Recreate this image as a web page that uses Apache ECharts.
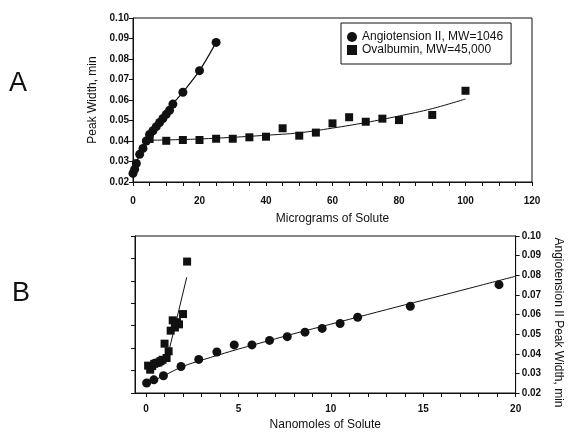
<!DOCTYPE html>
<html lang="en">
<head>
<meta charset="UTF-8">
<title>Peak width vs. solute</title>
<style>
  html, body { margin: 0; padding: 0; background: #fff; }
  #box { width: 572px; height: 432px; }
</style>
<script src="https://cdn.jsdelivr.net/npm/echarts@6/dist/echarts.min.js"></script>
</head>
<body>
<div id="box"></div>
<script>
// A: micrograms of solute vs peak width (min)
const angioUg = [0, 0.5, 1, 2, 3, 4, 5, 6, 7, 8, 9, 10, 11, 12, 15, 20, 25];
const angioWidthA = [0.0242, 0.0262, 0.0290, 0.0335, 0.0364, 0.0400, 0.0432, 0.0450, 0.0470,
  0.0490, 0.0510, 0.0530, 0.0550, 0.0580, 0.0638, 0.0743, 0.0881];
const ovalUg = [5, 10, 15, 20, 25, 30, 35, 40, 45, 50, 55, 60, 65, 70, 75, 80, 90, 100];
const ovalWidthA = [0.0410, 0.0401, 0.0405, 0.0405, 0.0411, 0.0411, 0.0418, 0.0421, 0.0462,
  0.0426, 0.0441, 0.0486, 0.0516, 0.0494, 0.0509, 0.0502, 0.0527, 0.0645];
// fitted curve for ovalbumin in A
const ovalFitUg = [3, 5, 10, 20, 30, 40, 50, 60, 70, 80, 90, 100];
const ovalFitA = [0.0375, 0.0403, 0.0405, 0.0410, 0.0418, 0.0428, 0.0440, 0.0463, 0.0490, 0.0522, 0.0558, 0.0605];

// B: nanomoles of solute
const angioNmol = [0.03, 0.42, 0.94, 1.89, 2.85, 3.83, 4.77, 5.73, 6.68, 7.64, 8.6, 9.53, 10.5, 11.45, 14.3, 19.1];
const angioWidthB = [0.0251, 0.0267, 0.0288, 0.0335, 0.0371, 0.0409, 0.0445, 0.0445, 0.0468,
  0.0487, 0.0510, 0.0529, 0.0554, 0.0586, 0.0642, 0.0752];
const angioFitNmol = [0, 1, 2, 3, 4, 5, 6, 8, 10, 12, 14, 16, 18, 20];
const angioFitB = [0.0245, 0.0290, 0.0336, 0.0367, 0.0396, 0.0424, 0.0450, 0.0502, 0.0551,
  0.0600, 0.0649, 0.0697, 0.0746, 0.0795];
const ovalNmol = [0.11, 0.22, 0.33, 0.44, 0.56, 0.67, 0.78, 0.89, 1.0, 1.11, 1.22, 1.33, 1.44, 1.56, 1.67, 1.78, 2.0, 2.22];
const ovalWidthB = [0.0411, 0.0402, 0.0410, 0.0415, 0.0417, 0.0418, 0.0421, 0.0424, 0.0460,
  0.0428, 0.0443, 0.0489, 0.0512, 0.0496, 0.0508, 0.0503, 0.0526, 0.0643];
const ovalFitNmol = [1.12, 1.6, 2.2];
const ovalFitB = [0.0425, 0.0505, 0.0608];

// ticks
const ticksA = [0, 5, 10, 15, 20, 25, 30, 35, 40, 45, 50, 55, 60, 65, 70, 75, 80, 85, 90, 95, 100, 105, 110, 115, 120];
const labelsA = [0, 20, 40, 60, 80, 100, 120];
const ticksB = [0, 1, 2, 3, 4, 5, 6, 7, 8, 9, 10, 11, 12, 13, 14, 15, 16, 17, 18, 19, 20];
const labelsB = [0, 5, 10, 15, 20];

const zip = (xs, ys) => xs.map((x, i) => [x, ys[i]]);

const font = 'Liberation Sans, Arial, sans-serif';
const ink = '#111';
const axisLine = { show: true, onZero: false, lineStyle: { color: ink, width: 1 } };
const tick = { show: true, inside: false, length: 4, lineStyle: { color: ink } };
const lbl = { color: ink, fontSize: 10, fontWeight: 'bold', fontFamily: font };
const nameStyle = { color: ink, fontSize: 12, fontFamily: font };
const dot = { color: ink, opacity: 1 };

let chart = echarts.init(document.getElementById('box'), null, { renderer: 'canvas' });

chart.setOption({
  backgroundColor: '#fff',
  animation: false,
  textStyle: { fontFamily: font },
  grid: [
    { left: 133, top: 18, width: 399, height: 164, show: true, borderColor: ink, borderWidth: 1 },
    { left: 135, top: 236, width: 392, height: 157, show: true, borderColor: ink, borderWidth: 1 }
  ],
  graphic: [
    { type: 'text', left: 9, top: 70, style: { text: 'A', fontSize: 27, fontFamily: font, fill: ink } },
    { type: 'text', left: 12, top: 280, style: { text: 'B', fontSize: 27, fontFamily: font, fill: ink } }
  ],
  legend: {
    left: 341, top: 23, orient: 'vertical',
    padding: [8, 8, 8, 6], itemGap: 1,
    itemWidth: 10, itemHeight: 10,
    borderColor: ink, borderWidth: 1,
    textStyle: { color: ink, fontSize: 12, fontFamily: font },
    data: [
      { name: 'Angiotension II, MW=1046', icon: 'circle' },
      { name: 'Ovalbumin, MW=45,000', icon: 'rect' }
    ]
  },
  xAxis: [
    {
      gridIndex: 0, type: 'value', min: 0, max: 120,
      name: 'Micrograms of Solute', nameLocation: 'middle', nameGap: 31, nameTextStyle: nameStyle,
      axisLine: axisLine, splitLine: { show: false },
      axisTick: Object.assign({}, tick, { customValues: ticksA }),
      axisLabel: Object.assign({}, lbl, { margin: 14, customValues: labelsA })
    },
    {
      gridIndex: 1, type: 'value', min: -0.6, max: 20,
      name: 'Nanomoles of Solute', nameLocation: 'middle', nameGap: 26, nameTextStyle: nameStyle,
      axisLine: axisLine, splitLine: { show: false },
      axisTick: Object.assign({}, tick, { customValues: ticksB }),
      axisLabel: Object.assign({}, lbl, { margin: 11, customValues: labelsB })
    }
  ],
  yAxis: [
    {
      gridIndex: 0, type: 'value', min: 0.02, max: 0.10, interval: 0.01,
      name: 'Peak Width, min', nameLocation: 'middle', nameGap: 31, nameTextStyle: nameStyle,
      axisLine: axisLine, axisTick: tick, splitLine: { show: false },
      axisLabel: Object.assign({}, lbl, { margin: 4, formatter: v => v.toFixed(2) })
    },
    {
      gridIndex: 1, type: 'value', position: 'left', min: 0.035, max: 0.070, interval: 0.005,
      axisLine: axisLine, axisTick: tick, splitLine: { show: false },
      axisLabel: { show: false }
    },
    {
      gridIndex: 1, type: 'value', position: 'right', min: 0.02, max: 0.10, interval: 0.01,
      name: 'Angiotension II Peak Width, min', nameLocation: 'middle', nameGap: 33, nameRotate: -90,
      nameTextStyle: Object.assign({}, nameStyle, { padding: [0, 0, 0, 16] }),
      axisLine: axisLine, axisTick: tick, splitLine: { show: false },
      axisLabel: Object.assign({}, lbl, { margin: 6, formatter: v => v.toFixed(2) })
    }
  ],
  series: [
    {
      name: 'Angiotension II, MW=1046', type: 'line', xAxisIndex: 0, yAxisIndex: 0,
      data: zip(angioUg, angioWidthA), smooth: 0.3,
      symbol: 'circle', symbolSize: 9, showAllSymbol: true,
      itemStyle: dot, lineStyle: { color: ink, width: 1.2 }
    },
    {
      name: 'Ovalbumin, MW=45,000', type: 'scatter', xAxisIndex: 0, yAxisIndex: 0,
      data: zip(ovalUg, ovalWidthA), symbol: 'rect', symbolSize: 8,
      itemStyle: dot
    },
    {
      name: 'ovalFitA', type: 'line', xAxisIndex: 0, yAxisIndex: 0,
      data: zip(ovalFitUg, ovalFitA), smooth: 0.4, symbol: 'none',
      lineStyle: { color: ink, width: 1 }
    },
    {
      name: 'angioB', type: 'scatter', xAxisIndex: 1, yAxisIndex: 2,
      data: zip(angioNmol, angioWidthB), symbol: 'circle', symbolSize: 9,
      itemStyle: dot
    },
    {
      name: 'angioFitB', type: 'line', xAxisIndex: 1, yAxisIndex: 2,
      data: zip(angioFitNmol, angioFitB), smooth: 0.3, symbol: 'none',
      lineStyle: { color: ink, width: 1 }
    },
    {
      name: 'ovalB', type: 'scatter', xAxisIndex: 1, yAxisIndex: 1,
      data: zip(ovalNmol, ovalWidthB), symbol: 'rect', symbolSize: 8,
      itemStyle: dot
    },
    {
      name: 'ovalFitB', type: 'line', xAxisIndex: 1, yAxisIndex: 1,
      data: zip(ovalFitNmol, ovalFitB), symbol: 'none',
      lineStyle: { color: ink, width: 1 }
    }
  ]
});
</script>
</body>
</html>
